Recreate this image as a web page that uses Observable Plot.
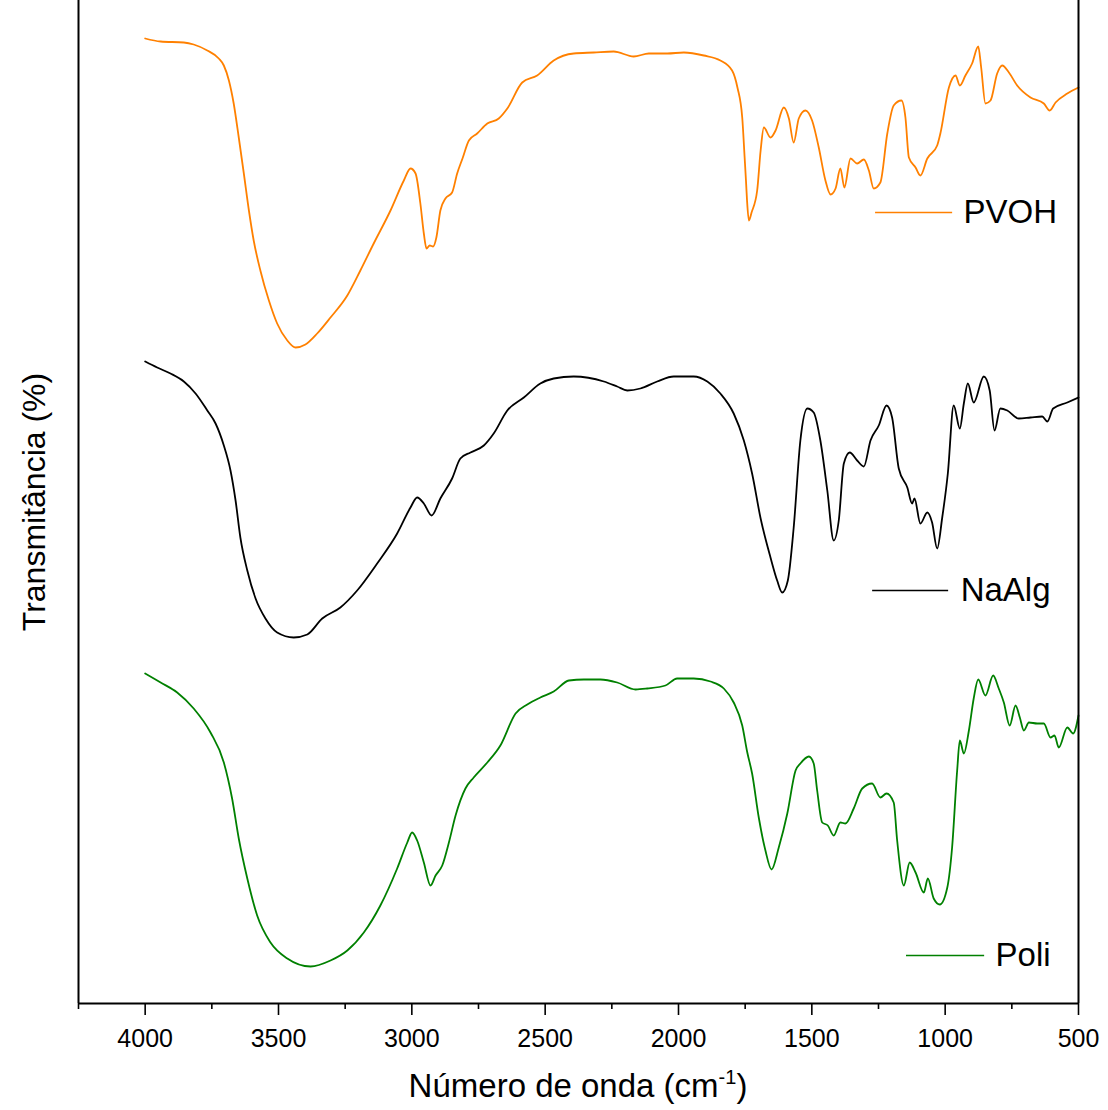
<!DOCTYPE html>
<html>
<head>
<meta charset="utf-8">
<script src="https://cdn.jsdelivr.net/npm/d3@7"></script>
<script src="https://cdn.jsdelivr.net/npm/@observablehq/plot@0.6"></script>
<style>
  html, body { margin: 0; padding: 0; background: #fff; }
  body { width: 1108px; height: 1110px; overflow: hidden; font-family: "Liberation Sans", Arial, sans-serif; }
  #xtitle { position: absolute; left: 78px; width: 1000px; top: 1066px; text-align: center; font-size: 33px; color: #000; line-height: 40px; }
  #xtitle sup { font-size: 20px; vertical-align: 0; position: relative; top: -13px; }
</style>
</head>
<body>
<div id="chart"></div>
<div id="xtitle">Número de onda (cm<sup>-1</sup>)</div>
<script>
// ---- data ----
const seriesNames = ["PVOH", "NaAlg", "Poli"];
const seriesColors = ["#ff8000", "#000000", "#008000"];

const pvohWn = [4000,3942,3855,3818,3767,3724,3705,3686,3668,3649,3630,3611,3593,3568,3536,3505,3467,3436,3399,3355,3305,3242,3193,3143,3080,3030,3005,2986,2968,2955,2945,2933,2920,2908,2893,2874,2849,2830,2810,2786,2755,2717,2674,2642,2586,2530,2468,2393,2318,2243,2168,2111,2042,1980,1905,1843,1799,1779,1761,1752,1747,1743,1736,1726,1705,1692,1680,1655,1636,1605,1586,1568,1549,1524,1499,1474,1449,1430,1411,1393,1378,1355,1330,1305,1286,1268,1243,1217,1193,1164,1149,1136,1111,1093,1067,1030,1018,986,961,945,924,899,876,865,849,830,805,786,761,730,680,630,608,586,542,500];
const pvohT = [96.5,96.2,96.1,95.9,95.3,94.5,93.8,92.3,90.0,86.6,83.0,79.3,76.3,73.3,70.3,68.0,66.3,65.6,65.9,67.0,68.6,70.8,73.3,76.0,79.3,82.3,83.5,83.0,80.0,77.0,75.5,75.8,75.7,76.6,79.3,80.5,81.1,83.0,84.5,86.3,87.0,88.0,88.5,89.5,92.1,92.8,94.3,95.0,95.1,95.2,94.7,95.0,95.0,95.1,94.8,94.3,93.3,91.6,88.6,84.6,82.3,80.3,78.3,79.1,81.3,85.3,87.6,86.6,87.3,89.6,88.5,86.1,88.5,89.3,88.3,85.6,82.3,80.9,81.5,83.5,81.6,84.5,84.0,84.4,83.3,81.5,82.1,87.0,89.8,90.3,88.6,84.6,83.6,82.8,84.5,85.8,87.0,91.6,92.8,91.8,92.8,94.0,95.7,93.6,90.0,90.3,93.0,93.8,93.1,91.8,90.6,90.0,89.3,90.1,91.0,91.6];

const naalgWn = [4000,3955,3905,3855,3811,3767,3736,3705,3680,3661,3643,3617,3586,3549,3505,3443,3392,3336,3268,3205,3130,3055,3005,2980,2955,2926,2893,2849,2818,2780,2730,2693,2642,2580,2518,2468,2393,2280,2230,2192,2143,2080,2018,1943,1892,1843,1793,1755,1724,1692,1655,1630,1611,1590,1568,1543,1517,1493,1468,1442,1418,1399,1380,1358,1330,1305,1280,1249,1220,1199,1174,1142,1124,1115,1093,1067,1049,1030,1011,990,968,945,930,915,893,855,833,815,793,767,724,680,636,617,595,542,500];
const naalgT = [64.2,63.6,63.0,62.2,61.0,59.3,58.0,55.8,53.3,50.3,46.6,43.3,40.5,38.5,37.1,36.6,36.9,38.5,39.6,41.3,44.0,47.0,49.6,50.6,50.0,48.8,50.5,52.5,54.5,55.1,55.8,57.0,59.3,60.6,62.0,62.5,62.7,62.2,61.7,61.3,61.5,62.2,62.7,62.7,62.2,61.0,59.0,56.3,53.0,48.5,44.6,42.3,41.1,42.3,47.6,56.3,59.5,59.1,56.3,51.3,46.3,48.3,54.0,55.1,54.3,53.7,56.3,57.8,59.8,58.6,53.5,51.6,50.0,50.5,48.0,49.1,48.1,45.5,48.6,53.0,59.8,57.5,60.0,62.0,60.1,62.7,61.3,57.3,59.5,59.3,58.5,58.6,58.7,58.2,59.5,60.1,60.6];

const poliWn = [4000,3942,3880,3818,3755,3705,3674,3649,3617,3580,3530,3467,3380,3305,3242,3180,3118,3055,3017,2999,2980,2955,2930,2911,2886,2861,2836,2799,2768,2717,2668,2611,2567,2518,2468,2411,2355,2293,2230,2161,2117,2049,2005,1943,1880,1830,1793,1761,1742,1724,1699,1674,1651,1624,1592,1561,1543,1511,1493,1480,1461,1440,1418,1393,1374,1343,1311,1274,1243,1220,1193,1180,1155,1133,1111,1080,1065,1043,1020,992,974,955,945,930,911,893,876,849,820,799,780,758,736,720,705,686,655,630,605,590,574,542,520,500];
const poliT = [33.0,32.1,31.1,29.5,27.1,24.1,20.5,16.5,12.5,8.8,6.1,4.5,3.7,4.3,5.3,7.1,9.8,13.5,16.1,17.1,16.3,14.1,11.8,12.8,13.8,16.1,18.8,21.5,22.6,24.1,25.8,29.0,29.9,30.6,31.2,32.3,32.4,32.4,32.1,31.4,31.5,31.8,32.5,32.5,32.2,31.5,30.1,27.8,25.1,23.0,18.6,15.3,13.4,15.6,19.0,23.3,24.0,24.7,24.0,21.3,18.1,17.8,16.8,18.1,18.0,19.5,21.5,22.0,20.6,21.0,20.1,16.3,11.8,14.1,13.1,11.1,12.5,10.5,9.9,11.6,15.6,23.3,26.3,25.0,27.3,30.5,32.4,30.8,32.8,31.5,30.1,27.8,29.8,28.6,27.3,28.1,28.0,28.0,26.6,26.8,25.6,27.6,27.0,28.8];

const majorTicks = [4000, 3500, 3000, 2500, 2000, 1500, 1000, 500];
const minorTicks = [4250, 3750, 3250, 2750, 2250, 1750, 1250, 750];
const yTitle = "Transmitância (%)";

// ---- build table ----
const seriesWn = [pvohWn, naalgWn, poliWn];
const seriesT = [pvohT, naalgT, poliT];
const rows = [];
seriesNames.forEach((name, i) => {
  seriesWn[i].forEach((w, j) => rows.push({series: name, wn: w, t: seriesT[i][j]}));
});

// legend layout (placement of the in-plot key, in data units)
const legendLayout = [
  {series: "PVOH",  x1: 1261, x2: 972, xText: 931, y: 79.1},
  {series: "NaAlg", x1: 1272, x2: 987, xText: 942, y: 41.3},
  {series: "Poli",  x1: 1145, x2: 852, xText: 811, y: 4.8}
];

const colorScale = {domain: seriesNames, range: seriesColors};

const chart = Plot.plot({
  width: 1108,
  height: 1064,
  marginLeft: 78,
  marginRight: 30,
  marginTop: 0,
  marginBottom: 61,
  style: {fontFamily: "Liberation Sans, Arial, sans-serif", background: "#fff", color: "#000"},
  x: {domain: [4250, 500], axis: null},
  y: {domain: [0, 100.3], axis: null},
  color: colorScale,
  marks: [
    Plot.line(rows, {x: "wn", y: "t", z: "series", stroke: "series", strokeWidth: 1.8, curve: "monotone-x"}),
    // frame: left, right, bottom
    Plot.ruleX([4250, 500], {stroke: "#000", strokeWidth: 2}),
    Plot.ruleY([0], {stroke: "#000", strokeWidth: 2.2}),
    // axes
    Plot.axisX({ticks: majorTicks, tickSize: 12, tickPadding: 14, fontSize: 25, strokeWidth: 1.6, tickFormat: d => String(d), label: null}),
    Plot.axisX({ticks: minorTicks, tickSize: 6, strokeWidth: 1.6, tickFormat: () => "", label: null}),
    // y title
    Plot.text([yTitle], {frameAnchor: "left", textAnchor: "middle", text: d => d, rotate: -90, dx: -44, fontSize: 32, fill: "#000"}),
    // legend
    Plot.ruleY(legendLayout, {y: "y", x1: "x1", x2: "x2", stroke: "series", strokeWidth: 1.6}),
    Plot.text(legendLayout, {x: "xText", y: "y", text: "series", textAnchor: "start", fontSize: 33, fill: "#000"})
  ]
});

document.getElementById("chart").appendChild(chart);
</script>
</body>
</html>
